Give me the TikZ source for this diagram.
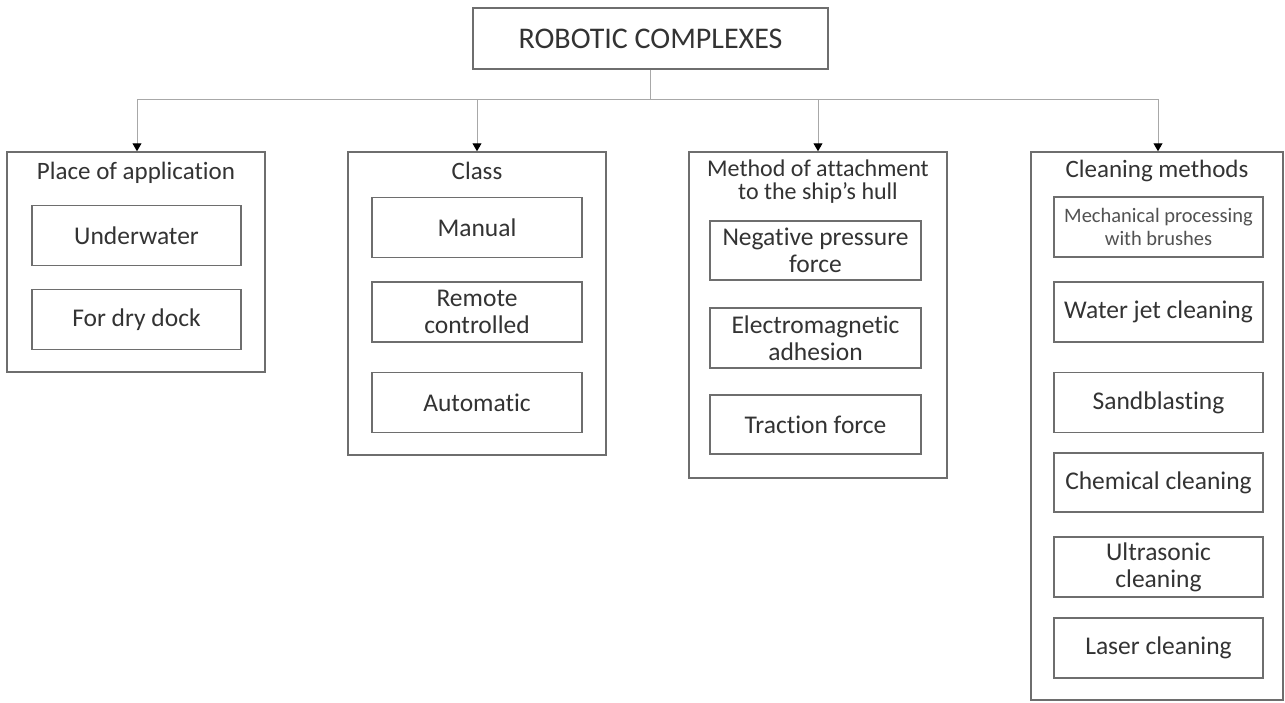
\documentclass[tikz,border=0pt]{standalone}
\usepackage{fontspec}
\setmainfont{Carlito}[Ligatures=CommonOff]
\usetikzlibrary{arrows.meta}
\definecolor{boxgray}{HTML}{6E6E6E}
\definecolor{linegray}{HTML}{A8A8A8}
\definecolor{txt}{HTML}{333333}
\tikzset{
  outerbox/.style={draw=boxgray, line width=1.5pt, rectangle, inner sep=0pt},
  inbox/.style={draw=boxgray, line width=1.5pt, rectangle, align=center, text=txt,
    minimum width=209pt, minimum height=60pt, inner sep=1pt,
    font=\fontsize{25.5}{27}\selectfont},
  title/.style={align=center, text=txt, inner sep=0pt, font=\fontsize{25}{24}\selectfont},
  conn/.style={draw=linegray, line width=1pt},
  arr/.style={conn, -{Triangle[width=9pt,length=8pt,fill=black,color=black]}}
}
\begin{document}
\begin{tikzpicture}[x=1pt,y=-1pt]
\useasboundingbox[fill=white] (0,0) rectangle (1285,702);
% top
\node[outerbox, minimum width=355pt, minimum height=61pt, text=txt, font=\fontsize{30}{32}\selectfont] (top) at (650.5,38.5) {ROBOTIC COMPLEXES};
% outer boxes
\node[outerbox, minimum width=258pt, minimum height=220pt] (b1) at (136,262) {};
\node[outerbox, minimum width=258pt, minimum height=303pt] (b2) at (477,303.5) {};
\node[outerbox, minimum width=258pt, minimum height=326pt] (b3) at (818,315) {};
\node[outerbox, minimum width=252pt, minimum height=548pt] (b4) at (1157,426) {};
% titles
\node[title] (t1) at (136,173) {Place of application};
\node[title] (t2) at (477,171) {Class};
\node[title, font=\fontsize{24}{23.5}\selectfont] (t3) at (818,181.5) {Method of attachment\\to the ship's hull};
\node[title] (t4) at (1157,171) {Cleaning methods};
% box 1
\node[inbox] (u) at (136.5,235.5) {Underwater};
\node[inbox] (d) at (136.5,319.5) {For dry dock};
% box 2
\node[inbox, minimum width=210pt] (m) at (477,227.5) {Manual};
\node[inbox, minimum width=210pt] (r) at (477,312) {Remote\\controlled};
\node[inbox, minimum width=210pt] (a) at (477,402.5) {Automatic};
% box 3
\node[inbox, minimum width=211pt, minimum height=59pt] (n) at (815.5,250.5) {Negative pressure\\force};
\node[inbox, minimum width=211pt] (e) at (815.5,338) {Electromagnetic\\adhesion};
\node[inbox, minimum width=211pt, minimum height=59pt] (tf) at (815.5,424.5) {Traction force};
% box 4
\node[inbox, font=\fontsize{20.5}{23}\selectfont, text=txt!85] (mp) at (1158.5,227) {Mechanical processing\\with brushes};
\node[inbox] (w) at (1158.5,312) {Water jet cleaning};
\node[inbox] (s) at (1158.5,402.5) {Sandblasting};
\node[inbox, minimum height=59pt] (c) at (1158.5,482.5) {Chemical cleaning};
\node[inbox] (ul) at (1158.5,567) {Ultrasonic\\cleaning};
\node[inbox] (l) at (1158.5,648) {Laser cleaning};
% connectors
\coordinate (j) at (top.south |- 0,99);
\draw[conn] (top.south) -- (j);
\draw[arr] (j) -| ([xshift=1pt]b1.north);
\draw[arr] (j) -| (b2.north);
\draw[arr] (j) -| (b3.north);
\draw[arr] (j) -| ([xshift=1pt]b4.north);
\end{tikzpicture}
\end{document}
